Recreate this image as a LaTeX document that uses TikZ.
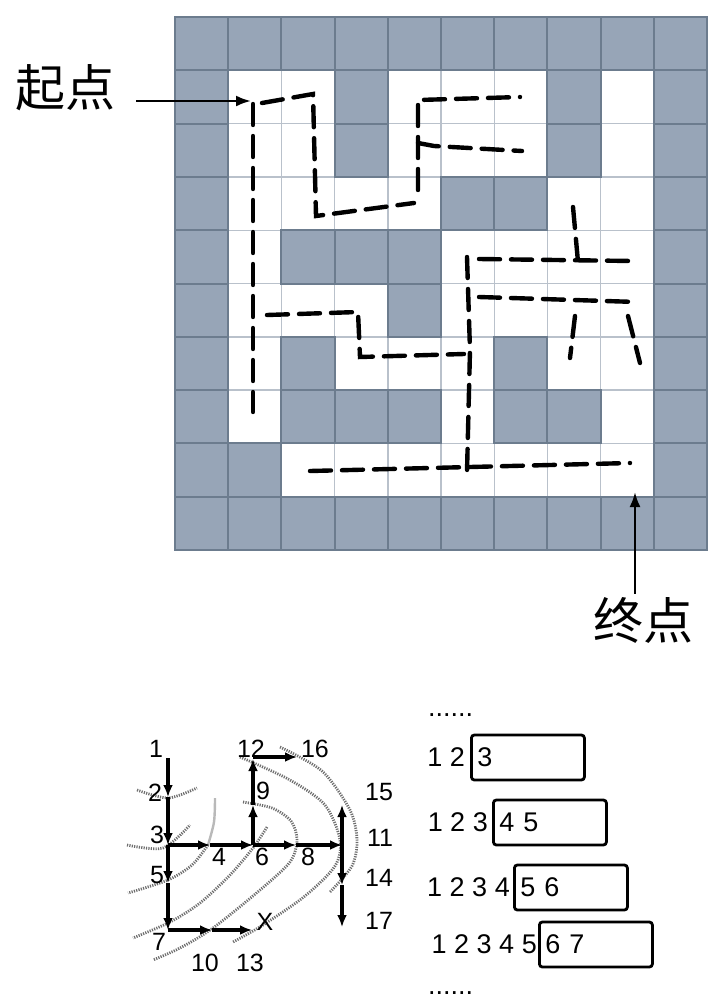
\documentclass[tikz,border=0pt]{standalone}
\usepackage{fontspec}
\setmainfont{Liberation Sans}
\newfontfamily\cjkfont{Noto Sans CJK SC}
\usepackage{tikz}
\usetikzlibrary{arrows.meta,positioning,calc}
\definecolor{mazegray}{HTML}{97A5B7}
\definecolor{mazeline}{HTML}{6C7C8E}
\definecolor{mazelight}{HTML}{B9C1CB}
\definecolor{wavegray}{HTML}{6E6E6E}

\begin{document}
\begin{tikzpicture}[
  >=Latex,
  x=1pt,
  y=-1pt,
  cellfill0/.style={fill=mazegray,draw=mazelight,line width=1.4pt},
  cellfill1/.style={fill=white,draw=mazelight,line width=1.4pt},
  celledge0/.style={draw=mazeline,line width=2pt},
  celledge1/.style={},
  route/.style={draw=black,line width=4.4pt,line cap=round,dash pattern=on 21pt off 11pt},
  pointer/.style={-{Latex[length=15pt,width=11pt]},line width=2.4pt},
  bigtxt/.style={font=\cjkfont\fontsize{50}{56}\selectfont,inner sep=0pt},
  lbl/.style={font=\fontsize{25}{28}\selectfont,inner sep=0pt},
  seqtxt/.style={font=\fontsize{27}{30}\selectfont,inner sep=0pt},
  flow/.style={-{Latex[length=12pt,width=10pt]},line width=3.4pt},
  wave/.style={draw=wavegray,line width=2.8pt,dash pattern=on 1.2pt off 1.2pt},
  faint/.style={draw=gray!55,line width=2.4pt},
  window/.style={seqtxt,draw=black,line width=2.8pt,rounded corners=3pt,anchor=west,
    minimum height=45pt,inner xsep=6pt,text width=101pt,align=left}
]
  \useasboundingbox (0,0) rectangle (721,999);

  \foreach \r/\row in {0/{0,0,0,0,0,0,0,0,0,0},1/{0,1,1,0,1,1,1,0,1,0},
      2/{0,1,1,0,1,1,1,0,1,0},3/{0,1,1,1,1,0,0,1,1,0},4/{0,1,0,0,0,1,1,1,1,0},
      5/{0,1,1,1,0,1,1,1,1,0},6/{0,1,0,1,1,1,0,1,1,0},7/{0,1,0,0,0,1,0,0,1,0},
      8/{0,0,1,1,1,1,1,1,1,0},9/{0,0,0,0,0,0,0,0,0,0}}
    \foreach \v [count=\c from 0] in \row
      \path[cellfill\v] (175+\c*53.2,17+\r*53.3) rectangle ++(53.2,53.3);
  \foreach \r/\row in {0/{0,0,0,0,0,0,0,0,0,0},1/{0,1,1,0,1,1,1,0,1,0},
      2/{0,1,1,0,1,1,1,0,1,0},3/{0,1,1,1,1,0,0,1,1,0},4/{0,1,0,0,0,1,1,1,1,0},
      5/{0,1,1,1,0,1,1,1,1,0},6/{0,1,0,1,1,1,0,1,1,0},7/{0,1,0,0,0,1,0,0,1,0},
      8/{0,0,1,1,1,1,1,1,1,0},9/{0,0,0,0,0,0,0,0,0,0}}
    \foreach \v [count=\c from 0] in \row
      \path[celledge\v] (175+\c*53.2,17+\r*53.3) rectangle ++(53.2,53.3);

  \draw[route] (253,104) -- (253,412);
  \draw[route] (262,103) -- (313,94) -- (316,216) -- (414,203);
  \draw[route] (418,190) -- (418,100) -- (520,97);
  \draw[route] (418,143) -- (434,146) -- (522,151);
  \draw[route] (267,315) -- (358,312) -- (360,357) -- (464,354);
  \draw[route] (467,257) -- (470,350) -- (467,472);
  \draw[route] (479,259) -- (633,261);
  \draw[route] (479,297) -- (637,302);
  \draw[route] (573,207) -- (578,262);
  \draw[route] (575,316) -- (570,358);
  \draw[route] (628,316) -- (640,363);
  \draw[route] (310,471) -- (630,463);

  \node[bigtxt] (start) at (66,88) {起点};
  \coordinate (entry) at (251,101);
  \draw[pointer,shorten <=20pt] (start.east |- entry) -- (entry);
  \node[bigtxt] (goal) at (643,620) {终点};
  \coordinate (exit) at (635,492);
  \draw[pointer,shorten <=3pt] (goal.north -| exit) -- (exit);

  \draw[wave] plot[smooth] coordinates {(137,790) (168,798) (197,788)};
  \draw[wave] plot[smooth] coordinates {(127,845) (163,848) (190,825)};
  \draw[faint] plot[smooth] coordinates {(215,798) (214,822) (208,845)};
  \draw[wave] plot[smooth] coordinates {(208,845) (192,865) (168,880) (128,893)};
  \draw[wave] plot[smooth] coordinates {(267,827) (253,848) (230,875) (200,903) (170,922) (133,938)};
  \draw[wave] plot[smooth] coordinates {(243,802) (272,808) (291,821) (297,840) (290,862) (260,890) (213,928) (180,948) (153,960)};
  \draw[wave] plot[smooth] coordinates {(240,757) (290,780) (325,805) (340,840) (335,866) (305,896) (263,925) (233,942)};
  \draw[wave] plot[smooth] coordinates {(280,747) (322,771) (350,810) (357,840) (352,866) (330,892)};

  \coordinate (p1) at (168,758);
  \coordinate (p2) at (168,797);
  \coordinate (p3) at (168,845);
  \coordinate (p5) at (168,883);
  \coordinate (p7) at (168,930);
  \coordinate (p4) at (210,845);
  \coordinate (p6) at (253,845);
  \coordinate (p8) at (296,845);
  \coordinate (p11) at (342,845);
  \coordinate (p9) at (253,805);
  \coordinate (p12) at (253,759);
  \coordinate (p16) at (297,757);
  \coordinate (p15) at (342,805);
  \coordinate (p14) at (342,885);
  \coordinate (p17) at (342,927);
  \coordinate (p10) at (212,930);
  \coordinate (p13) at (252,930);

  \draw[flow] (p1) -- (p2);
  \draw[flow] (p2) -- (p3);
  \draw[flow] (p3) -- (p5);
  \draw[flow] (p5) -- (p7);
  \draw[flow] (p3) -- (p4);
  \draw[flow] (p4) -- (p6);
  \draw[flow] (p6) -- (p8);
  \draw[flow] (p8) -- (p11);
  \draw[flow] (p6) -- (p9);
  \draw[flow] (p9) -- (p12);
  \draw[flow] (p12 |- p16) -- (p16);
  \draw[flow] (p11) -- (p15);
  \draw[flow] (p11) -- (p14);
  \draw[flow] (p14) -- (p17);
  \draw[flow] (p7) -- (p10);
  \draw[flow] (p10) -- (p13);

  \node[lbl] (t1) at (156,749) {1};
  \node[lbl] (t2) at (155,793) {2};
  \node[lbl] (t3) at (157,835) {3};
  \node[lbl] (t5) at (157,875) {5};
  \node[lbl] (t7) at (159,942) {7};
  \node[lbl] (t4) at (219,857) {4};
  \node[lbl] (t6) at (262,857) {6};
  \node[lbl] (t8) at (308,857) {8};
  \node[lbl] (t9) at (263,791) {9};
  \node[lbl] (t12) at (251,749) {12};
  \node[lbl] (t16) at (315,749) {16};
  \node[lbl] (t15) at (379,792) {15};
  \node[lbl] (t11) at (380,838) {11};
  \node[lbl] (t14) at (379,878) {14};
  \node[lbl] (t17) at (379,921) {17};
  \node[lbl] (t10) at (205,963) {10};
  \node[lbl] (t13) at (250,963) {13};
  \node[lbl] (tx) at (265,922) {X};

  \node[seqtxt,anchor=base west] (dotstop) at (428,716) {......};
  \node[window] (win1) at (470,757.5) {3};
  \node[seqtxt,left=5pt of win1] (pre1) {1 2};
  \node[window] (win2) at (492,822.5) {4 5};
  \node[seqtxt,left=4pt of win2] (pre2) {1 2 3};
  \node[window] (win3) at (513,887.5) {5 6};
  \node[seqtxt,left=3pt of win3] (pre3) {1 2 3 4};
  \node[window] (win4) at (538,944.5) {6 7};
  \node[seqtxt,left=1pt of win4] (pre4) {1 2 3 4 5};
  \node[seqtxt,anchor=base west] (dotsbot) at (428,994) {......};
\end{tikzpicture}
\end{document}
